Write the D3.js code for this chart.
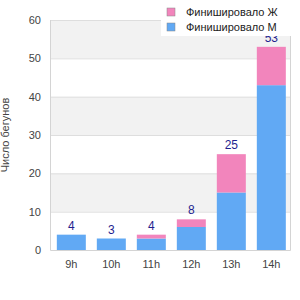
<!DOCTYPE html>
<html>
<head>
<meta charset="utf-8">
<script src="https://cdn.jsdelivr.net/npm/d3@7"></script>
<style>
  body { margin: 0; background: #fff; }
  svg { font-family: "Liberation Sans", Arial, sans-serif; }
</style>
</head>
<body>
<svg id="chart" width="300" height="300"></svg>
<script>
'use strict';

const hours = ['9h', '10h', '11h', '12h', '13h', '14h'];
const finishedM = [4, 3, 3, 6, 15, 43];
const finishedF = [0, 0, 1, 2, 10, 10];
const seriesNames = ['Финишировало Ж', 'Финишировало М'];
const yTicks = [0, 10, 20, 30, 40, 50, 60];

const svg = d3.select('#chart');
const plotLeft = 50, plotRight = 290, plotTop = 20, plotBottom = 250;

const x = d3.scaleBand()
    .domain(hours)
    .range([plotLeft, plotRight])
    .paddingInner(0.275)
    .paddingOuter(0.1375)
    .align(0.62);

const y = d3.scaleLinear()
    .domain([0, 60])
    .range([plotBottom, plotTop]);

// alternating bands
const bands = d3.pairs(yTicks);
svg.append('g').selectAll('rect')
    .data(bands)
    .enter().append('rect')
    .attr('x', plotLeft)
    .attr('y', (d) => y(d[1]))
    .attr('width', plotRight - plotLeft)
    .attr('height', (d) => y(d[0]) - y(d[1]))
    .attr('fill', (d, i) => i % 2 === 1 ? '#f2f2f2' : '#fff');

// grid
svg.append('g').selectAll('line')
    .data(yTicks.slice(1))
    .enter().append('line')
    .attr('x1', plotLeft)
    .attr('x2', plotRight)
    .attr('y1', (d) => y(d) + 0.5)
    .attr('y2', (d) => y(d) + 0.5)
    .attr('stroke', '#dedede');

// frame (left, bottom, right)
svg.append('path')
    .attr('d', `M${plotLeft + 0.5},${plotTop}V${plotBottom + 0.5}H${plotRight + 0.5}V${plotTop}`)
    .attr('fill', 'none')
    .attr('stroke', '#d4d4d4');

// y axis labels
svg.append('g').selectAll('text')
    .data(yTicks)
    .enter().append('text')
    .attr('x', plotLeft - 9)
    .attr('y', (d) => y(d))
    .attr('dy', '0.35em')
    .attr('text-anchor', 'end')
    .attr('font-size', 11)
    .attr('fill', '#444')
    .text((d) => d);

// x axis labels
svg.append('g').selectAll('text')
    .data(hours)
    .enter().append('text')
    .attr('x', (d) => x(d) + x.bandwidth() / 2)
    .attr('y', plotBottom + 14)
    .attr('dy', '0.35em')
    .attr('text-anchor', 'middle')
    .attr('font-size', 11)
    .attr('fill', '#444')
    .text((d) => d);

// y title
svg.append('text')
    .attr('transform', `translate(5,${(plotTop + plotBottom) / 2}) rotate(-90)`)
    .attr('text-anchor', 'middle')
    .attr('dy', '0.35em')
    .attr('font-size', 11)
    .attr('fill', '#444')
    .text('Число бегунов');

// stacked bars
const blue = '#61a9f4';
const pink = '#f285bc';

svg.append('g').selectAll('rect')
    .data(hours)
    .enter().append('rect')
    .attr('x', (d) => x(d))
    .attr('y', (d, i) => y(finishedM[i]))
    .attr('width', x.bandwidth())
    .attr('height', (d, i) => y(0) - y(finishedM[i]))
    .attr('fill', blue);

svg.append('g').selectAll('rect')
    .data(hours)
    .enter().append('rect')
    .attr('x', (d) => x(d))
    .attr('y', (d, i) => y(finishedM[i] + finishedF[i]))
    .attr('width', x.bandwidth())
    .attr('height', (d, i) => y(finishedM[i]) - y(finishedM[i] + finishedF[i]))
    .attr('fill', pink);

// totals
svg.append('g').selectAll('text')
    .data(hours)
    .enter().append('text')
    .attr('x', (d) => x(d) + x.bandwidth() / 2)
    .attr('y', (d, i) => y(finishedM[i] + finishedF[i]) - 5)
    .attr('text-anchor', 'middle')
    .attr('font-size', 12)
    .attr('fill', '#1f1f8f')
    .text((d, i) => finishedM[i] + finishedF[i]);

// legend
const legend = svg.append('g');
legend.append('rect')
    .attr('x', 161)
    .attr('y', 0)
    .attr('width', 139)
    .attr('height', 36)
    .attr('fill', '#fff');

const legendColors = [pink, blue];
const items = legend.selectAll('g.item')
    .data(seriesNames)
    .enter().append('g')
    .attr('class', 'item')
    .attr('transform', (d, i) => `translate(167,${12 + i * 15})`);

items.append('rect')
    .attr('x', 0)
    .attr('y', -4)
    .attr('width', 8)
    .attr('height', 8)
    .attr('fill', (d, i) => legendColors[i])
    .attr('stroke', '#888')
    .attr('stroke-width', 0.5);

items.append('text')
    .attr('x', 19)
    .attr('dy', '0.35em')
    .attr('font-size', 11)
    .attr('fill', '#222')
    .text((d) => d);
</script>
</body>
</html>
